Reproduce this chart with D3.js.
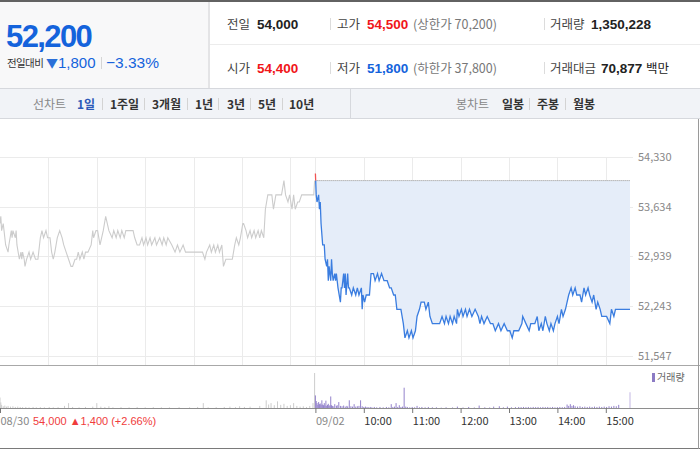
<!DOCTYPE html>
<html>
<head>
<meta charset="utf-8">
<script src="https://cdn.jsdelivr.net/npm/d3@7"></script>
<style>
body { margin: 0; background: #fff; }
text { font-family: "Noto Sans CJK KR", sans-serif; }
.num { font-family: "Liberation Sans", Arial, sans-serif; }
</style>
</head>
<body>
<script>
// quote header
var lastPrice = '52,200';
var changeValue = '1,800';
var changeRate = '\u22123.33%';
var rowLabels1 = ['전일', '고가', '거래량'];
var rowValues1 = ['54,000', '54,500', '1,350,228'];
var rowLabels2 = ['시가', '저가', '거래대금'];
var rowValues2 = ['54,400', '51,800', '70,877'];
var lineTabs = ['1일', '1주일', '3개월', '1년', '3년', '5년', '10년'];
var candleTabs = ['일봉', '주봉', '월봉'];

// chart values, [minutes after 09:00, price]
var prevClose = 54000;
var prevSummary = '54,000 \u25B21,400 (+2.66%)';
var priceTicks = [51547, 52243, 52939, 53634, 54330];
var xTickLabels = ['08/30', '09/02', '10:00', '11:00', '12:00', '13:00', '14:00', '15:00'];

var prevPrices = [[0,53400],[1,53500],[2,53300],[4,53400],[5,53300],[7,53100],[10,53000],[11,53100],[14,53300],[15,53200],[16,53300],[19,53200],[20,53300],[21,53100],[24,52900],[26,53000],[27,52900],[28,53000],[30,52900],[31,52800],[33,52900],[36,53000],[38,52900],[41,53000],[44,52900],[47,52900],[50,53200],[52,53300],[54,53200],[57,53300],[59,53200],[62,53200],[64,53000],[66,52900],[68,53000],[71,53200],[74,53300],[77,53200],[79,53100],[82,53000],[85,52900],[88,52800],[90,52800],[93,52900],[95,52900],[97,53000],[99,52900],[102,53000],[104,52900],[106,53000],[109,53000],[113,53100],[115,53300],[116,53200],[119,53300],[121,53300],[124,53100],[128,53300],[131,53500],[135,53300],[139,53200],[141,53300],[144,53200],[146,53300],[149,53200],[151,53300],[154,53200],[156,53300],[161,53300],[165,53300],[167,53200],[170,53100],[173,53100],[176,53200],[178,53100],[181,53200],[183,53100],[186,53200],[188,53100],[192,53200],[194,53100],[198,53200],[201,53100],[203,53200],[206,53100],[208,53200],[213,53100],[217,53000],[220,53100],[223,53000],[227,53100],[230,53000],[235,53000],[241,53000],[248,53000],[251,53000],[254,52900],[256,53000],[260,53100],[262,53000],[265,53100],[267,53000],[270,53100],[272,53000],[275,53100],[277,52800],[280,52900],[285,52900],[288,52900],[291,53100],[293,53200],[296,53100],[298,53200],[301,53400],[302,53400],[305,53300],[307,53200],[310,53300],[312,53200],[315,53300],[317,53200],[320,53300],[322,53200],[324,53300],[327,53200],[329,53600],[332,53800],[334,53800],[337,53800],[339,53600],[342,53800],[345,53800],[349,53800],[352,54000],[354,53800],[357,53700],[359,53800],[362,53600],[364,53800],[366,53600],[369,53700],[371,53700],[374,53800],[378,53800],[384,53800],[389,53800],[390,54000]];

var todayPrices = [[0,54100],[1,53800],[2,53700],[4,53800],[5,53600],[6,53700],[7,53400],[9,53100],[11,53100],[12,52900],[14,52800],[15,52900],[16,52600],[17,52800],[19,52600],[20,52900],[21,52700],[22,52600],[24,52700],[25,52600],[26,52700],[27,52600],[28,52500],[31,52300],[32,52500],[33,52500],[35,52700],[36,52500],[37,52700],[38,52400],[40,52700],[41,52500],[42,52500],[45,52400],[47,52500],[50,52400],[52,52500],[54,52400],[57,52500],[58,52200],[59,52400],[61,52300],[63,52400],[67,52400],[69,52700],[72,52700],[74,52600],[77,52700],[79,52600],[82,52700],[85,52600],[89,52600],[92,52500],[94,52500],[97,52400],[99,52400],[101,52200],[106,52200],[109,52000],[111,51800],[114,51900],[116,51800],[119,51900],[121,51800],[124,51900],[126,52100],[129,52200],[131,52300],[135,52300],[137,52200],[140,52300],[142,52100],[145,52000],[147,52000],[154,52000],[157,52100],[160,52000],[162,52100],[165,52000],[167,52100],[170,52000],[172,52100],[175,52000],[176,52200],[178,52100],[181,52200],[183,52100],[186,52200],[188,52100],[191,52200],[194,52100],[198,52200],[202,52100],[204,52000],[206,52100],[209,52000],[213,52100],[217,52000],[220,52000],[223,51900],[227,52000],[230,51900],[234,52000],[238,51900],[241,51900],[244,51800],[246,51900],[252,51900],[256,52000],[257,52100],[261,52000],[265,51900],[267,52000],[272,52000],[275,52100],[277,51900],[280,52000],[282,51900],[285,52100],[287,52000],[290,51900],[292,52000],[295,51900],[297,52000],[300,52100],[302,52000],[305,52200],[307,52100],[310,52200],[312,52300],[314,52400],[317,52500],[319,52400],[322,52500],[324,52400],[328,52400],[330,52300],[333,52500],[335,52400],[338,52500],[340,52400],[343,52300],[345,52400],[348,52200],[350,52300],[353,52200],[355,52100],[361,52100],[365,52000],[367,52200],[370,52100],[372,52200],[375,52200],[390,52200]];

var prevVolumes = [[0,30000],[1,16000],[2,9000],[4,5000],[6,7000],[8,4000],[10,6000],[13,4000],[16,5000],[19,3000],[22,4000],[25,3000],[28,2500],[32,3000],[36,2000],[41,3000],[45,2000],[50,2500],[55,2000],[61,3000],[66,2000],[72,2500],[80,6000],[85,14000],[90,3000],[98,2000],[106,3000],[115,4000],[120,14000],[125,4000],[130,3000],[135,5000],[140,2000],[150,2500],[160,2000],[170,3000],[180,2000],[190,2500],[200,2000],[210,2000],[222,2500],[235,2000],[245,3000],[252,14000],[258,2000],[268,2500],[278,3000],[285,4000],[292,2500],[297,5000],[303,3000],[310,4000],[322,6000],[330,22000],[333,10000],[336,14000],[340,8000],[344,19000],[348,9000],[352,12000],[356,6000],[360,8000],[364,14000],[368,6000],[372,4000],[376,5000],[380,3000],[384,6000],[388,14000],[390,100000]];

var todayVolumes = [[0,36000],[1,20000],[2,14000],[3,9000],[4,17000],[5,11000],[6,13000],[7,9000],[8,22000],[9,10000],[10,8000],[11,14000],[12,7000],[13,21000],[14,6000],[15,9000],[16,12000],[17,6000],[18,8000],[19,33000],[20,8000],[21,6000],[22,5000],[24,11000],[26,6000],[27,8000],[29,17000],[31,6000],[33,5000],[35,7000],[37,4000],[39,6000],[40,4000],[42,22000],[44,5000],[46,4000],[48,11000],[50,4000],[52,5000],[54,6000],[56,22000],[58,5000],[60,3000],[62,4000],[64,3000],[66,2000],[68,3000],[70,2000],[73,3000],[76,2000],[80,3000],[84,2000],[88,3000],[91,2000],[94,11000],[96,3000],[98,4000],[100,14000],[102,3000],[104,8000],[106,3000],[108,4000],[110,58000],[112,4000],[114,3000],[117,2000],[120,3000],[123,2000],[126,6000],[129,2000],[132,3000],[136,2000],[140,3000],[145,2000],[150,2000],[156,1000],[162,2000],[170,1500],[176,4000],[183,1500],[190,3000],[197,1500],[203,7000],[210,2000],[216,1500],[221,4000],[228,5000],[233,2000],[238,4000],[243,2000],[248,2500],[252,3000],[255,2500],[258,3000],[261,2500],[264,3000],[267,2000],[270,3000],[273,2500],[276,3000],[279,2000],[282,3000],[285,2500],[288,3000],[291,2000],[294,3000],[297,2000],[300,2500],[303,3000],[306,2500],[309,3000],[312,10000],[314,6000],[316,11000],[318,6000],[320,8000],[322,5000],[325,4000],[328,5000],[331,3000],[334,4000],[337,3000],[340,4000],[343,3000],[346,4000],[349,3000],[352,4000],[355,3000],[358,4000],[361,3000],[364,5000],[367,4000],[370,6000],[373,5000],[376,9000],[390,45000]];

var RED = '#f0161a';
var BLUE = '#1463dc';
var TODAY = 391; // minute index where the second session starts

var svg = d3.select('body')
    .append('svg')
    .attr('width', 700)
    .attr('height', 450);

// ---------- header ----------
svg.append('rect').attr('x', 0).attr('y', 0).attr('width', 700).attr('height', 2).attr('fill', '#626262');
svg.append('rect').attr('x', 0).attr('y', 2).attr('width', 208).attr('height', 86).attr('fill', '#f8f8f9');
svg.append('rect').attr('x', 208).attr('y', 2).attr('width', 2).attr('height', 86).attr('fill', '#e4e4e6');
svg.append('line').attr('x1', 210).attr('x2', 700).attr('y1', 44.5).attr('y2', 44.5).attr('stroke', '#ececec');

svg.append('text').attr('class', 'num')
  .attr('x', 6).attr('y', 47)
  .attr('font-size', 31).attr('font-weight', 'bold').attr('letter-spacing', -1.6)
  .attr('fill', BLUE)
  .text(lastPrice);

svg.append('text').attr('x', 7).attr('y', 67).attr('font-size', 10.5).attr('letter-spacing', -0.6).attr('fill', '#333').text('전일대비');
svg.append('text').attr('x', 46).attr('y', 68).attr('font-size', 12).attr('fill', '#2a6fd8').attr('font-family', 'DejaVu Sans').text('\u25BC');
svg.append('text').attr('class', 'num').attr('x', 58).attr('y', 68).attr('font-size', 15).attr('fill', BLUE).text(changeValue);
svg.append('line').attr('x1', 101.5).attr('x2', 101.5).attr('y1', 57).attr('y2', 69).attr('stroke', '#d5d5d5');
svg.append('text').attr('class', 'num').attr('x', 106).attr('y', 68).attr('font-size', 15.5).attr('fill', BLUE).text(changeRate);

var labelX = [227, 337, 550];
var valueX1 = [257, 367, 591];
var valueX2 = [257, 367, 601];
var colors1 = ['#222', RED, '#222'];
var colors2 = [RED, BLUE, '#222'];

function quoteRow(labels, values, vx, colors, base) {
  labels.forEach(function(l, i) {
    svg.append('text').attr('x', labelX[i]).attr('y', base).attr('font-size', 12.5).attr('fill', '#444').text(l);
    svg.append('text').attr('class', 'num').attr('x', vx[i]).attr('y', base)
      .attr('font-size', 13.5).attr('font-weight', 'bold').attr('fill', colors[i]).text(values[i]);
  });
  [330.5, 544.5].forEach(function(sx) {
    svg.append('line').attr('x1', sx).attr('x2', sx).attr('y1', base - 11).attr('y2', base + 1).attr('stroke', '#dcdcdc');
  });
}
quoteRow(rowLabels1, rowValues1, valueX1, colors1, 29);
quoteRow(rowLabels2, rowValues2, valueX2, colors2, 73);

svg.append('text').attr('x', 413).attr('y', 29).attr('font-size', 12.5).attr('fill', '#777').text('(상한가 70,200)');
svg.append('text').attr('x', 413).attr('y', 73).attr('font-size', 12.5).attr('fill', '#777').text('(하한가 37,800)');
svg.append('text').attr('x', 646).attr('y', 73).attr('font-size', 12.5).attr('fill', '#222').text('백만');

// tab bar
svg.append('rect').attr('x', 0).attr('y', 88).attr('width', 700).attr('height', 30).attr('fill', '#f1f3f7');
svg.append('line').attr('x1', 0).attr('x2', 700).attr('y1', 88.5).attr('y2', 88.5).attr('stroke', '#d6d8dd');
svg.append('line').attr('x1', 0).attr('x2', 700).attr('y1', 118.5).attr('y2', 118.5).attr('stroke', '#d6d8dd');
svg.append('line').attr('x1', 350.5).attr('x2', 350.5).attr('y1', 88).attr('y2', 118).attr('stroke', '#d6d8dd');

function tabs(title, tx, items, ix, seps, firstOn) {
  svg.append('text').attr('x', tx).attr('y', 109).attr('font-size', 12).attr('fill', '#888').text(title);
  items.forEach(function(t, i) {
    svg.append('text').attr('x', ix[i]).attr('y', 109).attr('font-size', 12)
      .attr('font-weight', 'bold')
      .attr('fill', (firstOn && i === 0) ? '#2c59b8' : '#333').text(t);
  });
  seps.forEach(function(sx) {
    svg.append('line').attr('x1', sx + 0.5).attr('x2', sx + 0.5).attr('y1', 98).attr('y2', 110).attr('stroke', '#d3d3d3');
  });
}
tabs('선차트', 33, lineTabs, [77, 110, 152, 195, 227, 258, 289], [102, 144, 187, 218, 250, 282], true);
tabs('봉차트', 456, candleTabs, [502, 537, 573], [529, 565], false);

// ---------- chart ----------
var x = d3.scaleLinear().domain([0, 781]).range([0, 630]);
var y = d3.scaleLinear().domain([priceTicks[0], priceTicks[priceTicks.length - 1]]).range([356, 157]);
var v = d3.scaleLinear().domain([0, 120000]).range([408, 366]);

function tickMinute(label) {
  if (label === xTickLabels[0]) return 0;
  if (label === xTickLabels[1]) return TODAY;
  var p = label.split(':');
  return TODAY + (+p[0] - 9) * 60 + (+p[1]);
}

var grid = svg.append('g');
grid.selectAll('.hg')
  .data(priceTicks)
  .enter().append('line')
  .attr('x1', 0).attr('x2', 633)
  .attr('y1', function(d) { return Math.round(y(d)) + 0.5; })
  .attr('y2', function(d) { return Math.round(y(d)) + 0.5; })
  .attr('stroke', '#ebebeb');

var vLines = d3.range(60, 391, 60).concat(xTickLabels.slice(1).map(tickMinute));
grid.selectAll('.vg')
  .data(vLines)
  .enter().append('line')
  .attr('x1', function(d) { return Math.round(x(d)) + 0.5; })
  .attr('x2', function(d) { return Math.round(x(d)) + 0.5; })
  .attr('y1', 157).attr('y2', 365)
  .attr('stroke', '#ebebeb');

var yaxis = d3.axisRight(y).tickValues(priceTicks).tickSize(0).tickPadding(0).tickFormat(d3.format(','));
var yg = svg.append('g')
  .attr('transform', 'translate(638,0)')
  .call(yaxis);
yg.select('.domain').remove();
yg.selectAll('text').attr('font-family', 'Liberation Sans').attr('font-size', 11).attr('fill', '#888');

var prevY = y(prevClose);
var defs = svg.append('defs');
defs.append('clipPath').attr('id', 'above').append('rect')
  .attr('x', 0).attr('y', 0).attr('width', 700).attr('height', prevY);
defs.append('clipPath').attr('id', 'below').append('rect')
  .attr('x', 0).attr('y', prevY).attr('width', 700).attr('height', 450 - prevY);

var area = d3.area()
  .x(function(d) { return x(TODAY + d[0]); })
  .y0(prevY)
  .y1(function(d) { return y(d[1]); });

svg.append('path')
  .datum(todayPrices)
  .attr('d', area)
  .attr('clip-path', 'url(#below)')
  .attr('fill', '#e5edf9');

svg.append('line')
  .attr('x1', x(TODAY)).attr('x2', x(TODAY + 390))
  .attr('y1', prevY).attr('y2', prevY)
  .attr('stroke', '#8a8a8a').attr('stroke-dasharray', '1,1');

var prevLine = d3.line()
  .x(function(d) { return x(d[0]); })
  .y(function(d) { return y(d[1]); });

svg.append('path')
  .datum(prevPrices)
  .attr('d', prevLine)
  .attr('fill', 'none')
  .attr('stroke', '#cccccc')
  .attr('stroke-width', 1.1);

var todayLine = d3.line()
  .x(function(d) { return x(TODAY + d[0]); })
  .y(function(d) { return y(d[1]); });

svg.append('path')
  .datum(todayPrices)
  .attr('d', todayLine)
  .attr('clip-path', 'url(#below)')
  .attr('fill', 'none')
  .attr('stroke', '#3a7de0')
  .attr('stroke-width', 1.3);

svg.append('path')
  .datum(todayPrices)
  .attr('d', todayLine)
  .attr('clip-path', 'url(#above)')
  .attr('fill', 'none')
  .attr('stroke', '#f05454')
  .attr('stroke-width', 1.3);

// volume
svg.append('g').selectAll('rect')
  .data(prevVolumes)
  .enter().append('rect')
  .attr('x', function(d) { return x(d[0]) - 0.5; })
  .attr('width', 1)
  .attr('y', function(d) { return v(d[1]); })
  .attr('height', function(d) { return 408 - v(d[1]); })
  .attr('fill', '#cdcdcd');

svg.append('g').selectAll('rect')
  .data(todayVolumes)
  .enter().append('rect')
  .attr('x', function(d) { return x(TODAY + d[0]) - 0.5; })
  .attr('width', 1)
  .attr('y', function(d) { return v(d[1]); })
  .attr('height', function(d) { return 408 - v(d[1]); })
  .attr('fill', function(d) { return d[0] === 390 ? '#c3b8e4' : '#9483cc'; });

svg.append('rect').attr('x', 652).attr('y', 373).attr('width', 3).attr('height', 9).attr('fill', '#8c7bc4');
svg.append('text').attr('x', 657).attr('y', 381).attr('font-size', 10).attr('fill', '#666').text('거래량');

// frame lines
svg.append('line').attr('x1', 0).attr('x2', 700).attr('y1', 365.5).attr('y2', 365.5).attr('stroke', '#a8a8a8');
svg.append('line').attr('x1', 0).attr('x2', 700).attr('y1', 408.5).attr('y2', 408.5).attr('stroke', '#8e8e8e');
svg.append('line').attr('x1', 0).attr('x2', 700).attr('y1', 448.5).attr('y2', 448.5).attr('stroke', '#7a7a7a');
svg.append('line').attr('x1', 698.5).attr('x2', 698.5).attr('y1', 119).attr('y2', 449).attr('stroke', '#9a9a9a');

// x axis
var xaxis = d3.axisBottom(x)
  .tickValues(xTickLabels.map(tickMinute))
  .tickSize(5)
  .tickPadding(4)
  .tickFormat(function(d, i) { return xTickLabels[i]; });

var xg = svg.append('g')
  .attr('transform', 'translate(0,408)')
  .call(xaxis);
xg.select('.domain').remove();
xg.selectAll('line').attr('stroke', '#777');
xg.selectAll('text')
  .attr('font-family', 'Liberation Sans')
  .attr('font-size', 11)
  .attr('text-anchor', 'start')
  .attr('fill', function(d, i) { return i < 2 ? '#888' : '#333'; });

svg.append('text')
  .attr('class', 'num')
  .attr('x', 33).attr('y', 425)
  .attr('font-size', 11)
  .attr('fill', '#f03c3c')
  .text(prevSummary);
</script>
</body>
</html>
